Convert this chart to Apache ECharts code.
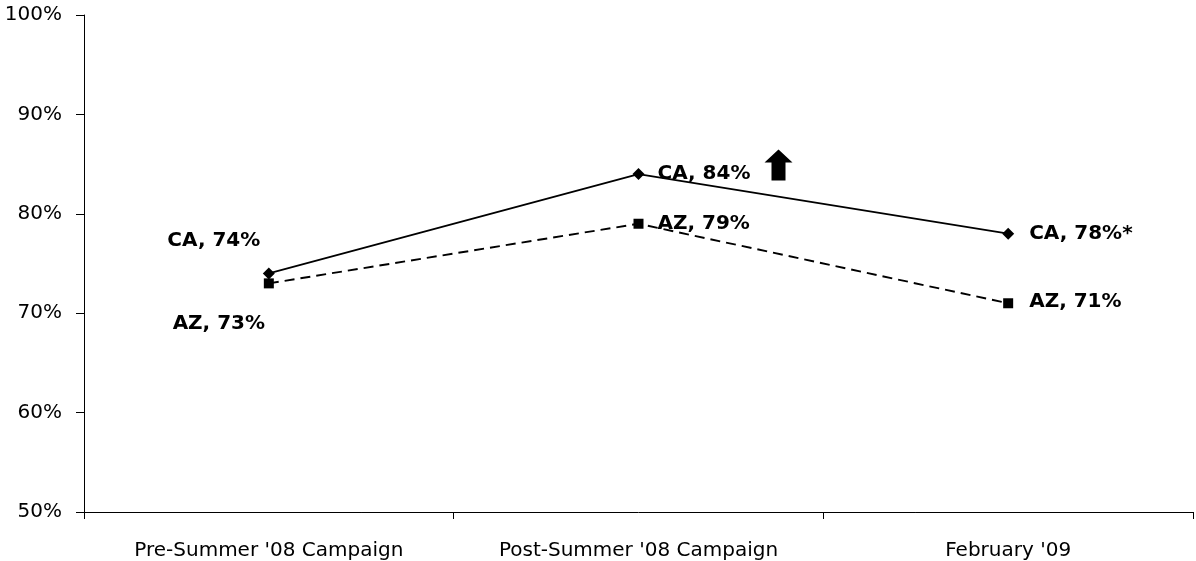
<!DOCTYPE html>
<html>
<head>
<meta charset="utf-8">
<style>
  html, body { margin: 0; padding: 0; background: #fff; }
  #chart { width: 1196px; height: 561px; }
</style>
<script src="https://cdn.jsdelivr.net/npm/echarts@6/dist/echarts.min.js"></script>
</head>
<body>
<div id="chart"></div>
<script>
// Survey waves along the x axis
const categories = ["Pre-Summer '08 Campaign", "Post-Summer '08 Campaign", "February '09"];
// Share of respondents (%) per state
const caValues = [74, 84, 78];
const azValues = [73, 79, 71];
// Note markers appended to individual point labels
const caSuffix = ['', '', '*'];
const azSuffix = ['', '', ''];
// Y axis range and step (%)
const yMin = 50, yMax = 100, yStep = 10;

const labelFont = {
  fontFamily: 'DejaVu Sans',
  fontWeight: 'bold',
  fontSize: 20,
  color: '#000'
};

// Per-point label placement around each marker
const caLabelPlacement = [
  { position: 'top', offset: [-55, -12] },
  { position: 'right', offset: [8, 0] },
  { position: 'right', offset: [10, 0] }
];
const azLabelPlacement = [
  { position: 'bottom', offset: [-50, 20] },
  { position: 'right', offset: [9, 0] },
  { position: 'right', offset: [11, -1] }
];

function buildData(name, values, suffix, placement) {
  return values.map((v, i) => ({
    value: v,
    label: Object.assign({
      show: true,
      formatter: name + ', ' + v + '%' + suffix[i]
    }, labelFont, placement[i])
  }));
}

// Block arrow pointing up, flagging the rise at the second wave
const upArrowPath = 'path://M14,0 L28,13 L21,13 L21,31 L7,31 L7,13 L0,13 Z';

const chart = echarts.init(document.getElementById('chart'));
chart.setOption({
  animation: false,
  backgroundColor: '#fff',
  grid: { left: 84, right: 3, top: 15, bottom: 49, containLabel: false },
  xAxis: {
    type: 'category',
    data: categories,
    boundaryGap: true,
    axisLine: { lineStyle: { color: '#000', width: 1 } },
    axisTick: { show: true, length: 7, lineStyle: { color: '#000' } },
    axisLabel: {
      fontFamily: 'DejaVu Sans',
      fontSize: 20,
      color: '#000',
      margin: 29
    },
    splitLine: { show: false }
  },
  yAxis: {
    type: 'value',
    min: yMin,
    max: yMax,
    interval: yStep,
    axisLine: { show: true, lineStyle: { color: '#000', width: 1 } },
    axisTick: { show: true, length: 8, lineStyle: { color: '#000' } },
    axisLabel: {
      fontFamily: 'DejaVu Sans',
      fontSize: 20,
      color: '#000',
      margin: 22,
      formatter: v => v + '%'
    },
    splitLine: { show: false }
  },
  series: [
    {
      name: 'CA',
      type: 'line',
      data: buildData('CA', caValues, caSuffix, caLabelPlacement),
      symbol: 'diamond',
      symbolSize: 12,
      itemStyle: { color: '#000' },
      lineStyle: { color: '#000', width: 1.8, type: 'solid' },
      z: 3,
      markPoint: {
        symbol: upArrowPath,
        symbolSize: [28, 31],
        symbolOffset: [140, -9],
        silent: true,
        label: { show: false },
        itemStyle: { color: '#000' },
        data: [{ coord: [categories[1], caValues[1]] }]
      }
    },
    {
      name: 'AZ',
      type: 'line',
      data: buildData('AZ', azValues, azSuffix, azLabelPlacement),
      symbol: 'rect',
      symbolSize: 10,
      itemStyle: { color: '#000' },
      lineStyle: { color: '#000', width: 1.9, type: [10, 6] },
      z: 2
    }
  ]
});
</script>
</body>
</html>
